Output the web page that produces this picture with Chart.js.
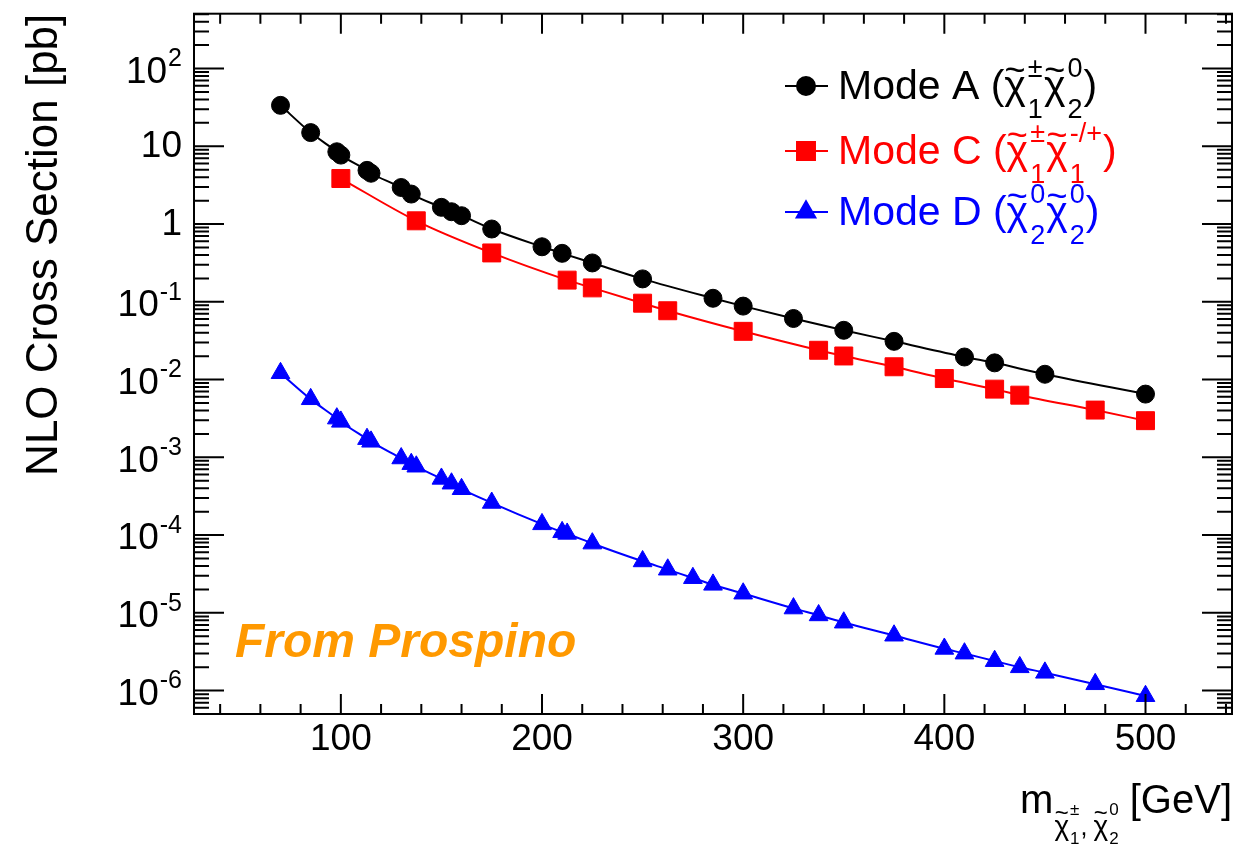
<!DOCTYPE html>
<html>
<head>
<meta charset="utf-8">
<title>NLO Cross Section</title>
<script src="https://cdn.jsdelivr.net/npm/chart.js@4.4.1/dist/chart.umd.min.js"></script>
<style>
  html, body { margin: 0; padding: 0; background: #ffffff; }
  #wrap { width: 1257px; height: 847px; }
</style>
</head>
<body>
<div id="wrap"><canvas id="xsec-chart" width="1257" height="847"></canvas></div>
<script>
// Mode A: chargino + neutralino_2
const massA = [70, 85, 98, 100, 113, 115, 130, 135, 150, 155, 160, 175, 200, 210, 225, 250, 285, 300, 325, 350, 375, 410, 425, 450, 500];
const xsecA = [33.6, 15.0, 8.5, 7.7, 4.9, 4.5, 2.95, 2.43, 1.64, 1.44, 1.28, 0.863, 0.51, 0.42, 0.316, 0.197, 0.111, 0.088, 0.061, 0.043, 0.031, 0.0195, 0.0164, 0.0117, 0.0065];

// Mode C: chargino pair
const massC = [100, 137.5, 175, 212.5, 225, 250, 262.5, 300, 337.5, 350, 375, 400, 425, 437.5, 475, 500];
const xsecC = [3.85, 1.10, 0.425, 0.19, 0.151, 0.096, 0.0767, 0.0417, 0.0238, 0.0201, 0.0146, 0.0103, 0.00753, 0.0063, 0.00405, 0.00296];

// Mode D: neutralino_2 pair
const massD = [70, 85, 98, 100, 113, 115, 130, 135, 137.5, 150, 155, 160, 175, 200, 210, 212.5, 225, 250, 262.5, 275, 285, 300, 325, 337.5, 350, 375, 400, 410, 425, 437.5, 450, 475, 500];
const xsecD = [0.0121, 0.0056, 0.00316, 0.00287, 0.00172, 0.00159, 0.00097, 0.00082, 0.00076, 5.3e-4, 4.6e-4, 3.9e-4, 2.6e-4, 1.38e-4, 1.09e-4, 1.04e-4, 7.8e-5, 4.6e-5, 3.6e-5, 2.8e-5, 2.3e-5, 1.77e-5, 1.14e-5, 9.3e-6, 7.5e-6, 5.1e-6, 3.45e-6, 3.0e-6, 2.4e-6, 2.0e-6, 1.7e-6, 1.21e-6, 8.5e-7];

// legend names and the (sup, sub) of each chi in the process
const seriesNames = ['Mode A', 'Mode C', 'Mode D'];
const seriesChis = [
    [['±', '1'], ['0', '2']],
    [['±', '1'], ['-/+', '1']],
    [['0', '2'], ['0', '2']]
];

// axes
const xLimits = [27, 543];
const yLimits = [5e-7, 507];
const xTickLabels = [100, 200, 300, 400, 500];
const xMinorStep = 20;
const yDecades = [-6, -5, -4, -3, -2, -1, 0, 1, 2];

const FONT = "'Liberation Sans', Arial, Helvetica, sans-serif";
const COLORS = ['#000000', '#ff0000', '#0000ff'];
const STYLES = ['circle', 'rect', 'triangle'];
const RADII = [9, 12.7, 10.8];

function toPoints(xs, ys) {
    return xs.map((m, i) => ({ x: m, y: ys[i] }));
}

// chi with a tilde on top plus super/subscript, returns the advance width
function chiGroup(ctx, x, base, o, sup, sub, draw) {
    ctx.font = o.size + 'px ' + FONT;
    const wChi = ctx.measureText('χ').width;
    if (draw) ctx.fillText('χ', x, base);

    ctx.font = o.tildeSize + 'px ' + FONT;
    const wT = ctx.measureText('~').width;
    if (draw) ctx.fillText('~', x + (wChi - wT) / 2, base - o.tildeUp + o.tildeSize * 0.34);

    ctx.font = o.scriptSize + 'px ' + FONT;
    const sx = x + wChi + o.gap;
    const wSup = ctx.measureText(sup).width;
    const wSub = ctx.measureText(sub).width;
    if (draw) {
        ctx.fillText(sup, sx, base - o.supUp);
        ctx.fillText(sub, sx, base + o.subDown);
    }
    return wChi + o.gap + Math.max(wSup, wSub);
}

const legendChi = { size: 41, tildeSize: 36, tildeUp: 29, scriptSize: 27, supUp: 22, subDown: 19, gap: 2 };
const titleChi = { size: 28, tildeSize: 24, tildeUp: 22, scriptSize: 17, supUp: 20, subDown: 9, gap: 1 };

function drawMassTitle(ctx, right, base, draw) {
    let x = draw ? right - drawMassTitle(ctx, right, base, false) : 0;
    const x0 = x;
    ctx.font = '40px ' + FONT;
    if (draw) ctx.fillText('m', x, base);
    x += ctx.measureText('m').width + 1;
    const sb = base + 22;
    x += chiGroup(ctx, x, sb, titleChi, '±', '1', draw);
    ctx.font = '25px ' + FONT;
    if (draw) ctx.fillText(',', x + 1, sb);
    x += ctx.measureText(', ').width;
    x += chiGroup(ctx, x, sb, titleChi, '0', '2', draw);
    ctx.font = '40px ' + FONT;
    if (draw) ctx.fillText(' [GeV]', x, base);
    x += ctx.measureText(' [GeV]').width;
    return x - x0;
}

// frame, inward ticks on all sides, log labels, legend and notes
const rootStyle = {
    id: 'rootStyle',
    afterDraw(chart) {
        const { ctx, chartArea: a, scales: { x, y } } = chart;
        ctx.save();
        ctx.strokeStyle = '#000';
        ctx.fillStyle = '#000';

        ctx.lineWidth = 2;
        ctx.beginPath();
        for (let v = 40; v <= xLimits[1]; v += xMinorStep) {
            const px = x.getPixelForValue(v);
            const len = v % 100 === 0 ? 20 : 10;
            ctx.moveTo(px, a.bottom); ctx.lineTo(px, a.bottom - len);
            ctx.moveTo(px, a.top); ctx.lineTo(px, a.top + len);
        }
        for (let e = -7; e <= 2; e++) {
            for (let k = 1; k <= 9; k++) {
                const v = k * Math.pow(10, e);
                if (v < yLimits[0] || v > yLimits[1]) continue;
                const py = y.getPixelForValue(v);
                const len = k === 1 ? 30 : 15;
                ctx.moveTo(a.left, py); ctx.lineTo(a.left + len, py);
                ctx.moveTo(a.right, py); ctx.lineTo(a.right - len, py);
            }
        }
        ctx.stroke();
        ctx.strokeRect(a.left, a.top, a.right - a.left, a.bottom - a.top);

        // y labels: 1, 10, 10^n
        ctx.textBaseline = 'middle';
        ctx.textAlign = 'right';
        const labelRight = a.left - 12;
        yDecades.forEach(e => {
            const py = y.getPixelForValue(Math.pow(10, e));
            if (e === 0 || e === 1) {
                ctx.font = '37px ' + FONT;
                ctx.fillText(e === 0 ? '1' : '10', labelRight, py + 1);
            } else {
                ctx.font = '25px ' + FONT;
                const exp = String(e);
                const w = ctx.measureText(exp).width;
                ctx.fillText(exp, labelRight, py - 9);
                ctx.font = '37px ' + FONT;
                ctx.fillText('10', labelRight - w - 1, py + 4);
            }
        });

        // legend
        ctx.textAlign = 'left';
        ctx.textBaseline = 'alphabetic';
        const bases = [99, 164, 225];
        seriesNames.forEach((name, i) => {
            const base = bases[i];
            const my = base - 13;
            ctx.strokeStyle = COLORS[i];
            ctx.fillStyle = COLORS[i];
            ctx.lineWidth = 2;
            ctx.beginPath();
            ctx.moveTo(785, my); ctx.lineTo(828, my);
            ctx.stroke();
            Chart.helpers.drawPoint(ctx, { pointStyle: STYLES[i], radius: RADII[i], borderWidth: 1 }, 806, my);

            ctx.font = '41px ' + FONT;
            let tx = 838;
            ctx.fillText(name + ' (', tx, base);
            tx += ctx.measureText(name + ' (').width;
            seriesChis[i].forEach(([sup, sub]) => {
                tx += chiGroup(ctx, tx, base, legendChi, sup, sub, true) + 1;
            });
            ctx.font = '41px ' + FONT;
            ctx.fillText(')', tx, base);
        });

        ctx.fillStyle = '#ff9900';
        ctx.font = 'italic bold 48px ' + FONT;
        ctx.fillText('From Prospino', 235, 657);

        ctx.fillStyle = '#000';
        drawMassTitle(ctx, a.right, 813, true);
        ctx.restore();
    }
};

const datasets = [
    { label: seriesNames[0], data: toPoints(massA, xsecA) },
    { label: seriesNames[1], data: toPoints(massC, xsecC) },
    { label: seriesNames[2], data: toPoints(massD, xsecD) }
].map((d, i) => Object.assign(d, {
    borderColor: COLORS[i],
    backgroundColor: COLORS[i],
    pointBackgroundColor: COLORS[i],
    pointBorderColor: COLORS[i],
    pointStyle: STYLES[i],
    pointRadius: RADII[i],
    pointHoverRadius: RADII[i],
    pointBorderWidth: 1,
    borderWidth: 2,
    cubicInterpolationMode: 'monotone',
    fill: false
}));

new Chart(document.getElementById('xsec-chart'), {
    type: 'line',
    data: { datasets },
    options: {
        responsive: false,
        animation: false,
        layout: { padding: { left: 18, right: 25, top: 11, bottom: 0 } },
        plugins: {
            legend: { display: false },
            tooltip: { enabled: false }
        },
        scales: {
            x: {
                type: 'linear',
                min: xLimits[0],
                max: xLimits[1],
                afterBuildTicks: scale => { scale.ticks = xTickLabels.map(v => ({ value: v })); },
                afterFit: scale => { scale.height = 133; },
                grid: { display: false, drawTicks: false },
                border: { display: false },
                ticks: {
                    font: { family: FONT, size: 37 },
                    color: '#000',
                    padding: 4,
                    maxRotation: 0,
                    autoSkip: false
                }
            },
            y: {
                type: 'logarithmic',
                min: yLimits[0],
                max: yLimits[1],
                afterFit: scale => { scale.width = 176; },
                grid: { display: false, drawTicks: false },
                border: { display: false },
                ticks: { display: false },
                title: {
                    display: true,
                    text: 'NLO Cross Section [pb]',
                    align: 'end',
                    color: '#000',
                    font: { family: FONT, size: 44 },
                    padding: 0
                }
            }
        }
    },
    plugins: [rootStyle]
});
</script>
</body>
</html>
